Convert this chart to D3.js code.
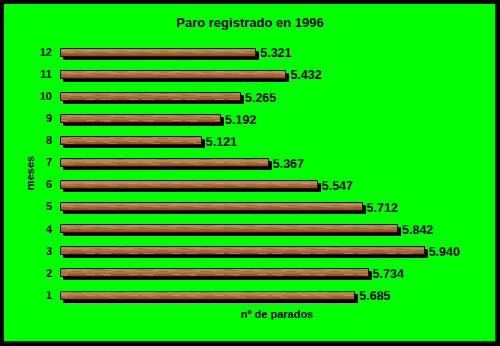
<!DOCTYPE html>
<html>
<head>
<meta charset="utf-8">
<script src="https://cdn.jsdelivr.net/npm/d3@7"></script>
<style>
  html, body { margin: 0; padding: 0; background: #000; }
  svg { display: block; }
  text { font-family: "Liberation Sans", Arial, sans-serif; fill: #000; }
</style>
</head>
<body>
<svg id="chart" width="500" height="346"></svg>
<script>
// Registered unemployment by month, 1996
const months = ["1", "2", "3", "4", "5", "6", "7", "8", "9", "10", "11", "12"];
const parados = [5685, 5734, 5940, 5842, 5712, 5547, 5367, 5121, 5192, 5265, 5432, 5321];
const xDomain = [4600, 6000];
const chartTitle = "Paro registrado en 1996";
const xTitle = "nº de parados";
const yTitle = "meses";

const W = 500, H = 346;
const svg = d3.select("#chart");

// green panel inside a black frame
svg.append("rect").attr("x", 0).attr("y", 0).attr("width", W).attr("height", H).attr("fill", "#000");
svg.append("rect").attr("x", 4).attr("y", 4).attr("width", 491).attr("height", 337).attr("fill", "#00FF00");

// wood shading: lighter top, warm middle, darker bottom edge
const defs = svg.append("defs");
const grad = defs.append("linearGradient").attr("id", "woodShade")
  .attr("x1", 0).attr("y1", 0).attr("x2", 0).attr("y2", 1);
[[0, "#b97a42"], [0.25, "#c88b52"], [0.5, "#b27340"], [0.75, "#9c6132"], [1, "#7c4822"]]
  .forEach(([o, c]) => grad.append("stop").attr("offset", o).attr("stop-color", c));

// grain streaks tiled along the bar
const pat = defs.append("pattern").attr("id", "grain")
  .attr("patternUnits", "userSpaceOnUse").attr("width", 43).attr("height", 7);
const grain = [
  [0, 1, 9, "#d9a46e", 0.55], [14, 1, 11, "#d19a62", 0.5], [31, 2, 8, "#8e5528", 0.35],
  [4, 3, 12, "#9a5f30", 0.45], [22, 3, 9, "#c99258", 0.45], [9, 4, 15, "#844d24", 0.4],
  [28, 5, 11, "#7a4620", 0.4], [1, 5, 7, "#a3693a", 0.4], [18, 2, 6, "#bd8148", 0.5]
];
grain.forEach(([gx, gy, gw, c, o]) =>
  pat.append("rect").attr("x", gx).attr("y", gy).attr("width", gw).attr("height", 1)
    .attr("fill", c).attr("fill-opacity", o));

const x = d3.scaleLinear().domain(xDomain).range([60, 441]);
const y = d3.scalePoint().domain(months.slice().reverse()).range([52, 295]);
const barH = 9;
const x0 = x(xDomain[0]);
const barTop = d => Math.round(y(d.mes) - barH / 2);

const es = d3.formatLocale({ decimal: ",", thousands: ".", grouping: [3], currency: ["", " €"] });
const fmt = es.format(",d");

const data = months.map((m, i) => ({ mes: m, v: parados[i] }));

const marks = svg.append("g").attr("shape-rendering", "crispEdges");

// shadows
marks.append("g").selectAll("rect").data(data).join("rect")
  .attr("x", x0 + 3)
  .attr("y", d => barTop(d) + 3)
  .attr("width", d => Math.round(x(d.v) - x0))
  .attr("height", barH)
  .attr("fill", "#000");

// bars: dark outline, wood shading, grain on top
const bars = marks.append("g").selectAll("g").data(data).join("g");
bars.append("rect")
  .attr("x", x0).attr("y", barTop)
  .attr("width", d => Math.round(x(d.v) - x0)).attr("height", barH)
  .attr("fill", "#2a1608");
bars.append("rect")
  .attr("x", x0 + 1).attr("y", d => barTop(d) + 1)
  .attr("width", d => Math.round(x(d.v) - x0) - 2).attr("height", barH - 2)
  .attr("fill", "url(#woodShade)");
bars.append("rect")
  .attr("x", x0 + 1).attr("y", d => barTop(d) + 1)
  .attr("width", d => Math.round(x(d.v) - x0) - 2).attr("height", barH - 2)
  .attr("fill", "url(#grain)");

// month labels
svg.append("g").selectAll("text").data(data).join("text")
  .attr("x", 52)
  .attr("y", d => y(d.mes))
  .attr("dy", "0.35em")
  .attr("text-anchor", "end")
  .style("font-size", "11px")
  .style("font-weight", "bold")
  .text(d => d.mes);

// value labels
svg.append("g").selectAll("text").data(data).join("text")
  .attr("x", d => x(d.v) + 4)
  .attr("y", d => y(d.mes) + 1)
  .attr("dy", "0.35em")
  .style("font-size", "12.5px")
  .style("font-weight", "bold")
  .text(d => fmt(d.v));

// titles
svg.append("text").attr("x", 250).attr("y", 27).attr("text-anchor", "middle")
  .style("font-size", "13px").style("font-weight", "bold").text(chartTitle);
svg.append("text").attr("x", 277).attr("y", 318).attr("text-anchor", "middle")
  .style("font-size", "11px").style("font-weight", "bold").text(xTitle);
svg.append("text").attr("transform", "translate(34,173) rotate(-90)").attr("text-anchor", "middle")
  .style("font-size", "11px").style("font-weight", "bold").text(yTitle);
</script>
</body>
</html>
